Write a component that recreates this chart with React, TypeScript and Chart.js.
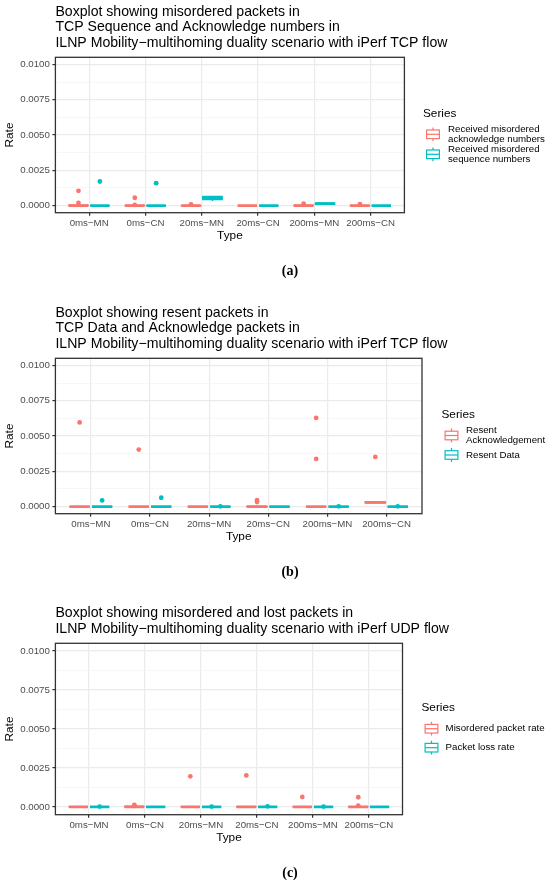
import { useEffect, useRef } from "react";
import { Chart, registerables } from "chart.js";

Chart.register(...registerables);

type Box = [number, number, number, number, number]; // lower whisker, q1, median, q3, upper whisker

const TYPES = ["0ms−MN", "0ms−CN", "20ms−MN", "20ms−CN", "200ms−MN", "200ms−CN"];
const Y_MAJOR = [0, 0.0025, 0.005, 0.0075, 0.01];
const Y_MINOR = [0.00125, 0.00375, 0.00625, 0.00875];

const RED = "#F8766D";
const TEAL = "#00BFC4";
const SANS = "'Liberation Sans', Arial, Helvetica, sans-serif";
const DODGE = 0.19;
const HALF = 0.172;

// (a) misordered TCP sequence / acknowledge numbers
const A_ACK_BOX: Box[] = [
  [0, 0, 0, 0.00004, 0.0001],
  [0, 0, 0, 0.00002, 0.00004],
  [0, 0, 0, 0.00001, 0.00002],
  [0, 0, 0, 0, 0],
  [0, 0, 0, 0.00003, 0.00006],
  [0, 0, 0, 0.00001, 0.00003],
];
const A_ACK_OUT = [[0.00105, 0.00019], [0.00056, 0.00005], [0.00008], [], [0.00014], [0.0001]];
const A_SEQ_BOX: Box[] = [
  [0, 0, 0, 0, 0],
  [0, 0, 0, 0, 0],
  [0.00033, 0.00043, 0.00053, 0.00065, 0.00067],
  [0, 0, 0, 0, 0],
  [0.00008, 0.0001, 0.00014, 0.00018, 0.0002],
  [0, 0, 0, 0, 0],
];
const A_SEQ_OUT = [[0.00171], [0.00159], [], [], [], []];

// (b) resent TCP data / acknowledge packets
const B_ACK_BOX: Box[] = [
  [0, 0, 0, 0, 0],
  [0, 0, 0, 0, 0],
  [0, 0, 0, 0, 0],
  [0, 0, 0, 0.00002, 0.00003],
  [0, 0, 0, 0, 0],
  [0.00022, 0.00026, 0.0003, 0.00034, 0.0004],
];
const B_ACK_OUT = [[0.00596], [0.00404], [], [0.00046, 0.00032], [0.00628, 0.00338], [0.00352]];
const B_DATA_BOX: Box[] = [
  [0, 0, 0, 0, 0],
  [0, 0, 0, 0, 0],
  [0, 0, 0, 0, 0],
  [0, 0, 0, 0, 0],
  [0, 0, 0, 0, 0],
  [0, 0, 0, 0, 0],
];
const B_DATA_OUT = [[0.00044], [0.00063], [0.00002], [], [0.00002], [0.00002]];

// (c) misordered and lost UDP packets
const C_MIS_BOX: Box[] = [
  [0, 0, 0, 0, 0],
  [0, 0, 0, 0.00004, 0.00006],
  [0, 0, 0, 0, 0],
  [0, 0, 0, 0.00002, 0.00003],
  [0, 0, 0, 0, 0],
  [0, 0, 0, 0.00002, 0.00004],
];
const C_MIS_OUT = [[], [0.00013, 0.00006], [0.00196], [0.00202], [0.00064], [0.00062, 0.00008]];
const C_LOSS_BOX: Box[] = [
  [0, 0, 0, 0, 0],
  [0, 0, 0, 0, 0],
  [0, 0, 0, 0, 0],
  [0, 0, 0, 0, 0],
  [0, 0, 0, 0, 0],
  [0, 0, 0, 0, 0],
];
const C_LOSS_OUT = [[0.00002], [], [0.00002], [0.00004], [0.00002], []];

type Series = { label: string[]; color: string; boxes: Box[]; outliers: number[][] };
type PanelCfg = {
  title: string[];
  series: Series[];
  height: number;
  top: number;
  right: number;
  legend: { x: number; textX: number; titleY: number; keys: number[] };
  caption: string;
};

const PANELS: PanelCfg[] = [
  {
    title: [
      "Boxplot showing misordered packets in",
      "TCP Sequence and Acknowledge numbers in",
      "ILNP Mobility−multihoming duality scenario with iPerf TCP flow",
    ],
    series: [
      { label: ["Received misordered", "acknowledge numbers"], color: RED, boxes: A_ACK_BOX, outliers: A_ACK_OUT },
      { label: ["Received misordered", "sequence numbers"], color: TEAL, boxes: A_SEQ_BOX, outliers: A_SEQ_OUT },
    ],
    height: 301, top: 57.3, right: 145.6,
    legend: { x: 424.5, textX: 448, titleY: 113.5, keys: [134.3, 154.3] },
    caption: "(a)",
  },
  {
    title: [
      "Boxplot showing resent packets in",
      "TCP Data and Acknowledge packets in",
      "ILNP Mobility−multihoming duality scenario with iPerf TCP flow",
    ],
    series: [
      { label: ["Resent", "Acknowledgement"], color: RED, boxes: B_ACK_BOX, outliers: B_ACK_OUT },
      { label: ["Resent Data"], color: TEAL, boxes: B_DATA_BOX, outliers: B_DATA_OUT },
    ],
    height: 301, top: 57.3, right: 128,
    legend: { x: 443, textX: 466, titleY: 113.3, keys: [134.5, 154] },
    caption: "(b)",
  },
  {
    title: [
      "Boxplot showing misordered and lost packets in",
      "ILNP Mobility−multihoming duality scenario with iPerf UDP flow",
    ],
    series: [
      { label: ["Misordered packet rate"], color: RED, boxes: C_MIS_BOX, outliers: C_MIS_OUT },
      { label: ["Packet loss rate"], color: TEAL, boxes: C_LOSS_BOX, outliers: C_LOSS_OUT },
    ],
    height: 284, top: 41.3, right: 147.5,
    legend: { x: 423, textX: 445.6, titleY: 105.7, keys: [126.7, 145.7] },
    caption: "(c)",
  },
];

const isMajor = (v: number) => Y_MAJOR.some((m) => Math.abs(m - v) < 1e-9);
const offsetOf = (si: number) => (si === 0 ? -DODGE : DODGE);

function ggPlugin(cfg: PanelCfg) {
  return {
    id: "gg",
    beforeDatasetsDraw(chart: any) {
      const { ctx, chartArea: a, scales } = chart;
      const { x, y } = scales;
      ctx.save();
      ctx.beginPath();
      ctx.rect(a.left, a.top, a.width, a.height);
      ctx.clip();
      cfg.series.forEach((s, si) => {
        s.boxes.forEach(([lo, q1, med, q3, hi], i) => {
          const c = i + 1 + offsetOf(si);
          const cx = x.getPixelForValue(c);
          const x0 = x.getPixelForValue(c - HALF);
          const x1 = x.getPixelForValue(c + HALF);
          const yLo = y.getPixelForValue(lo);
          const yQ1 = y.getPixelForValue(q1);
          const yMed = y.getPixelForValue(med);
          const yQ3 = y.getPixelForValue(q3);
          const yHi = y.getPixelForValue(hi);
          ctx.strokeStyle = s.color;
          ctx.lineWidth = 1.4;
          ctx.beginPath();
          ctx.moveTo(cx, yQ3);
          ctx.lineTo(cx, yHi);
          ctx.moveTo(cx, yQ1);
          ctx.lineTo(cx, yLo);
          ctx.stroke();
          ctx.fillStyle = "#ffffff";
          ctx.fillRect(x0, yQ3, x1 - x0, yQ1 - yQ3);
          ctx.strokeRect(x0, yQ3, x1 - x0, yQ1 - yQ3);
          ctx.lineWidth = 2.8;
          ctx.beginPath();
          ctx.moveTo(x0, yMed);
          ctx.lineTo(x1, yMed);
          ctx.stroke();
        });
      });
      ctx.restore();
    },
    afterDraw(chart: any) {
      const { ctx, chartArea: a } = chart;
      ctx.save();
      // panel border
      ctx.strokeStyle = "#333333";
      ctx.lineWidth = 1.3;
      ctx.strokeRect(a.left, a.top, a.right - a.left, a.bottom - a.top);

      // title
      ctx.fillStyle = "#000000";
      ctx.textAlign = "left";
      ctx.textBaseline = "middle";
      ctx.font = `14.1px ${SANS}`;
      const n = cfg.title.length;
      cfg.title.forEach((line, i) => {
        ctx.fillText(line, a.left, a.top - 14.6 - (n - 1 - i) * 15.35);
      });

      // legend
      const lg = cfg.legend;
      ctx.font = `11.8px ${SANS}`;
      ctx.fillText("Series", lg.x - 1.5, lg.titleY);
      ctx.font = `9.7px ${SANS}`;
      cfg.series.forEach((s, si) => {
        const ky = lg.keys[si];
        ctx.strokeStyle = s.color;
        ctx.lineWidth = 1.2;
        ctx.beginPath();
        ctx.moveTo(lg.x + 8.5, ky - 6.9);
        ctx.lineTo(lg.x + 8.5, ky - 4.3);
        ctx.moveTo(lg.x + 8.5, ky + 4.3);
        ctx.lineTo(lg.x + 8.5, ky + 6.9);
        ctx.stroke();
        ctx.strokeRect(lg.x + 2.1, ky - 4.3, 12.8, 8.6);
        ctx.beginPath();
        ctx.moveTo(lg.x + 2.1, ky);
        ctx.lineTo(lg.x + 14.9, ky);
        ctx.stroke();
        ctx.fillStyle = "#000000";
        const m = s.label.length;
        s.label.forEach((t, j) => {
          ctx.fillText(t, lg.textX, ky + (j - (m - 1) / 2) * 10);
        });
      });

      // caption
      ctx.textAlign = "center";
      ctx.font = "bold 14px 'Liberation Serif', 'DejaVu Serif', serif";
      ctx.fillText(cfg.caption, 290, a.bottom + 59);
      ctx.restore();
    },
  };
}

function Panel({ cfg }: { cfg: PanelCfg }) {
  const canvasRef = useRef<HTMLCanvasElement>(null);

  useEffect(() => {
    if (!canvasRef.current) return;
    const chart = new Chart(canvasRef.current, {
      type: "scatter",
      data: {
        datasets: cfg.series.map((s, si) => ({
          label: s.label.join(" "),
          data: s.outliers.flatMap((vals, i) => vals.map((v) => ({ x: i + 1 + offsetOf(si), y: v }))),
          pointRadius: 2.4,
          pointBorderWidth: 0,
          pointBackgroundColor: s.color,
          pointBorderColor: s.color,
          showLine: false,
        })),
      },
      options: {
        animation: false,
        responsive: true,
        maintainAspectRatio: false,
        events: [],
        layout: { padding: { top: cfg.top, right: cfg.right, bottom: cfg.height - 212.7 - 30, left: 0 } },
        plugins: { legend: { display: false }, tooltip: { enabled: false }, title: { display: false } },
        scales: {
          x: {
            type: "linear",
            min: 0.4,
            max: 6.6,
            afterBuildTicks: (axis: any) => {
              axis.ticks = TYPES.map((_, i) => ({ value: i + 1 }));
            },
            afterFit: (axis: any) => {
              axis.height = 30;
            },
            ticks: {
              callback: (_v: any, i: number) => TYPES[i],
              autoSkip: false,
              maxRotation: 0,
              minRotation: 0,
              padding: 2,
              color: "#4D4D4D",
              font: { family: SANS, size: 9.7 },
            },
            grid: { color: "#EBEBEB", lineWidth: 1.2, tickLength: 3, tickColor: "#333333", tickWidth: 1.2 },
            border: { display: false },
            title: { display: true, text: "Type", color: "#000000", font: { family: SANS, size: 11.8 }, padding: { top: 0, bottom: 0 } },
          },
          y: {
            type: "linear",
            min: -0.0005,
            max: 0.0105,
            afterBuildTicks: (axis: any) => {
              axis.ticks = [...Y_MAJOR, ...Y_MINOR].sort((p, q) => p - q).map((v) => ({ value: v }));
            },
            afterFit: (axis: any) => {
              axis.width = 55.4;
            },
            ticks: {
              callback: (v: any) => (isMajor(Number(v)) ? Number(v).toFixed(4) : ""),
              autoSkip: false,
              padding: 2.5,
              color: "#4D4D4D",
              font: { family: SANS, size: 9.7 },
            },
            grid: {
              color: (c: any) => (c.tick && isMajor(c.tick.value) ? "#EBEBEB" : "#F3F3F3"),
              lineWidth: (c: any) => (c.tick && isMajor(c.tick.value) ? 1.2 : 0.7),
              tickLength: 3,
              tickWidth: 1.2,
              tickColor: (c: any) => (c.tick && isMajor(c.tick.value) ? "#333333" : "rgba(0,0,0,0)"),
            },
            border: { display: false },
            title: { display: true, text: "Rate", color: "#000000", font: { family: SANS, size: 11.8 }, padding: { top: 3, bottom: 0 } },
          },
        },
      },
      plugins: [ggPlugin(cfg)],
    } as any);

    return () => {
      chart.destroy();
    };
  }, [cfg]);

  return (
    <div style={{ position: "relative", width: 550, height: cfg.height }}>
      <canvas ref={canvasRef} />
    </div>
  );
}

export default function App() {
  return (
    <div style={{ position: "absolute", left: 0, top: 0, width: 550, height: 886, background: "#ffffff" }}>
      {PANELS.map((p) => (
        <Panel key={p.caption} cfg={p} />
      ))}
    </div>
  );
}
